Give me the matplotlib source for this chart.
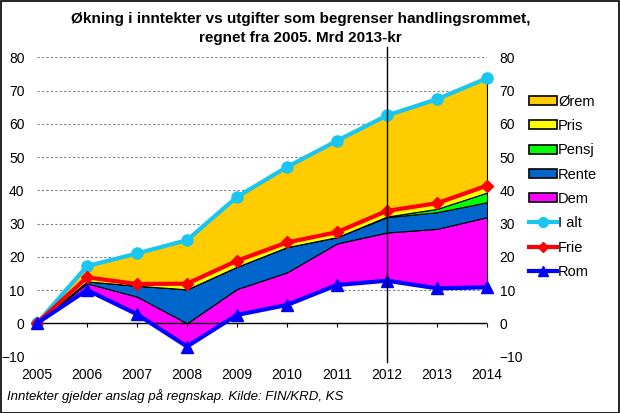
import matplotlib
matplotlib.use("Agg")
import matplotlib.pyplot as plt
import numpy as np
from matplotlib.patches import Rectangle, Patch
from matplotlib.lines import Line2D

plt.rcParams['font.family'] = ['Liberation Sans', 'DejaVu Sans']

years = [2005, 2006, 2007, 2008, 2009, 2010, 2011, 2012, 2013, 2014]
rom   = [0, 10.0, 2.7, -7.0, 2.5, 5.5, 11.5, 12.8, 10.5, 10.8]
dem   = [0, 2.0, 5.3, 7.0, 7.8, 9.8, 12.5, 14.5, 17.9, 21.1]
rente = [0, 0.6, 3.3, 10.2, 6.7, 7.6, 1.9, 4.6, 5.0, 4.5]
pensj = [0, 0, 0, 0, 0, 0, 0, 0.2, 1.0, 2.9]
pris  = [0, 1.2, 0.5, 1.7, 1.8, 1.4, 1.5, 1.7, 1.7, 2.1]
orem  = [0, 3.4, 9.2, 13.1, 19.2, 22.7, 27.5, 28.7, 31.3, 32.3]
i_alt = [0, 17.2, 21.0, 25.0, 38.0, 47.0, 54.9, 62.5, 67.4, 73.7]
frie  = [0, 13.8, 11.8, 11.9, 18.8, 24.3, 27.4, 33.8, 36.1, 41.4]

area_names = ['Dem', 'Rente', 'Pensj', 'Pris', 'Ørem']
area_vals = [dem, rente, pensj, pris, orem]
area_cols = ['#FF00FF', '#0066CC', '#00FF00', '#FFFF00', '#FFCC00']

fig = plt.figure(figsize=(6.2, 4.13), dpi=100)
ax = fig.add_axes([0.0597, 0.1368, 0.7258, 0.7245])

x = np.array(years)
base = np.array(rom, dtype=float)
for name, vals, col in zip(area_names, area_vals, area_cols):
    top = base + np.array(vals, dtype=float)
    ax.fill_between(x, base, top, facecolor=col, edgecolor='black', linewidth=0.8, zorder=2)
    base = top

ax.plot(years, i_alt, color='#19C6F2', lw=3, marker='o', ms=8, clip_on=False, zorder=5)
ax.plot(years, frie, color='#FF0000', lw=3, marker='D', ms=6.5, clip_on=False, zorder=6)
ax.plot(years, rom, color='#0000FF', lw=3, marker='^', ms=8, clip_on=False, zorder=7)

ax.set_xlim(2005, 2014)
ax.set_ylim(-10, 80)
ax.set_yticks(range(-10, 81, 10))
ax.grid(axis='y', linestyle=(0, (2, 2)), color='#808080', linewidth=0.8, zorder=0)
ax.set_axisbelow(True)
for s in ax.spines.values():
    s.set_visible(False)
ax.axhline(0, color='black', lw=1, zorder=3)
ax.vlines(years, -1.2, 0, color='black', lw=0.8, zorder=3, clip_on=False)
ax.axvline(2012, ymin=-0.02, ymax=1.035, color='black', lw=1, zorder=8, clip_on=False)

ax.set_xticks(years)
ax.set_xticklabels([str(y) for y in years])
ax.tick_params(axis='x', length=0, pad=8, labelsize=10)
ax.tick_params(axis='y', length=0, pad=9, labelsize=10, labelleft=True, labelright=True)

handles = [Patch(facecolor=c, edgecolor='black', linewidth=1.2) for c in area_cols[::-1]]
labels = area_names[::-1]
handles += [Line2D([], [], color='#19C6F2', lw=3, marker='o', ms=7),
            Line2D([], [], color='#FF0000', lw=3, marker='D', ms=5),
            Line2D([], [], color='#0000FF', lw=3, marker='^', ms=7)]
labels += ['I alt', 'Frie', 'Rom']
fig.legend(handles, labels, loc='upper left', bbox_to_anchor=(0.853, 0.771),
           frameon=False, fontsize=10.5, handlelength=1.9, handleheight=0.6,
           handletextpad=0.1, labelspacing=0.71, borderaxespad=0, borderpad=0)

fig.text(0.485, 0.953, 'Økning i inntekter vs utgifter som begrenser handlingsrommet,',
         ha='center', va='center', fontsize=11, fontweight='bold')
fig.text(0.485, 0.908, 'regnet fra 2005. Mrd 2013-kr',
         ha='center', va='center', fontsize=11, fontweight='bold')
fig.text(0.012, 0.041, 'Inntekter gjelder anslag på regnskap. Kilde: FIN/KRD, KS',
         ha='left', va='center', fontsize=9.5, style='italic')

fig.patches.append(Rectangle((0.001, 0.001), 0.997, 0.997, transform=fig.transFigure,
                             fill=False, edgecolor='black', lw=1.2))

fig.savefig('out.png', dpi=100)
